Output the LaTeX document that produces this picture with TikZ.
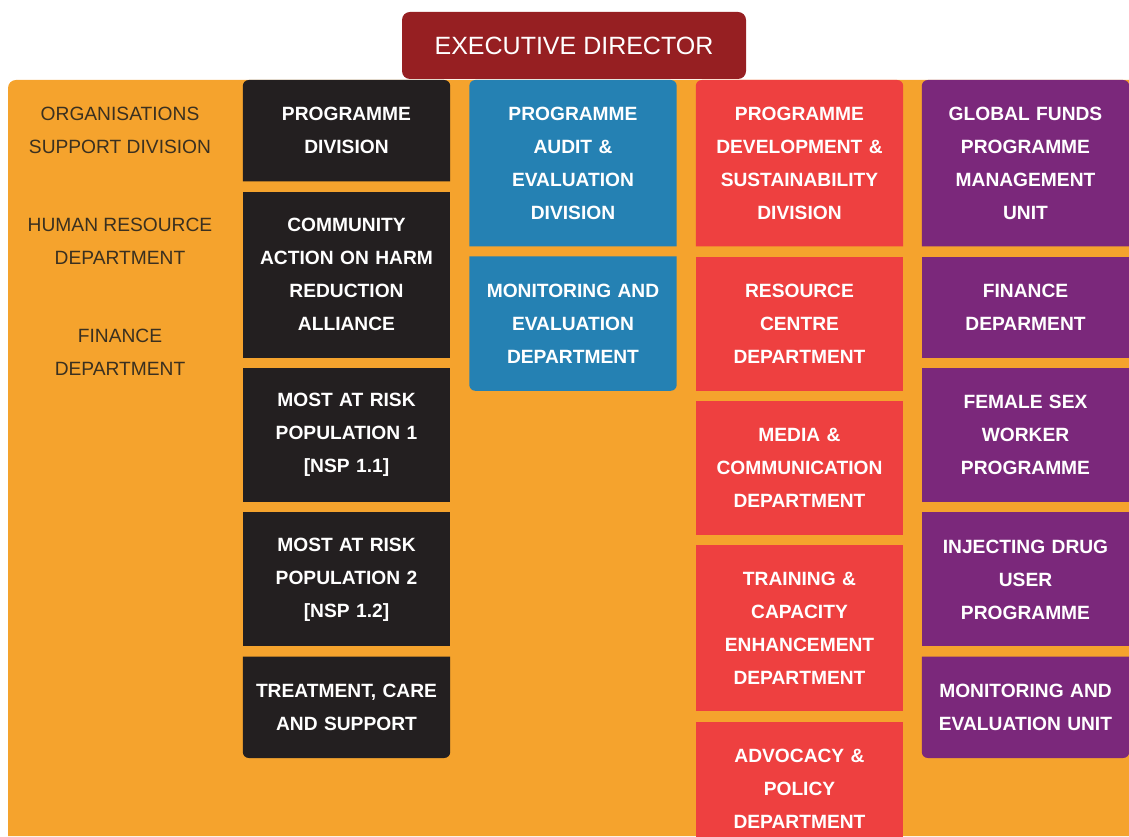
\documentclass[tikz,border=0pt]{standalone}
\usepackage{fontspec}
\setmainfont{Liberation Sans}
\usetikzlibrary{positioning, backgrounds}

\definecolor{orgbg}{HTML}{F5A32D}
\definecolor{execred}{HTML}{961F22}
\definecolor{progblack}{HTML}{231F20}
\definecolor{auditblue}{HTML}{2581B3}
\definecolor{devred}{HTML}{EE4040}
\definecolor{fundpurple}{HTML}{7B287B}
\definecolor{sidetext}{HTML}{3A3020}

\begin{document}
\begin{tikzpicture}[x=1pt, y=1pt, node distance=10pt,
  unit/.style={minimum width=207pt, text width=200pt, inner sep=0pt, align=center,
    text=white, font=\fontsize{19.2pt}{33pt}\selectfont\bfseries},
  two/.style={minimum height=101pt},
  three/.style={minimum height=134pt},
  four/.style={minimum height=166pt},
  side/.style={text=sidetext, align=center, font=\fontsize{19.2pt}{33pt}\selectfont}]
  \useasboundingbox (0,0) rectangle (1129,836);

  % Head of the chart
  \node (exec) [fill=execred, rounded corners=8pt, minimum width=344pt, minimum height=67pt,
    text=white, font=\fontsize{25pt}{30pt}\selectfont] at (574,790.5) {EXECUTIVE DIRECTOR};

  % Support division, no boxes
  \node (osd) [side] at (120,705.5) {ORGANISATIONS\\SUPPORT DIVISION};
  \node (hrd) [side] at (120,594.5) {HUMAN RESOURCE\\DEPARTMENT};
  \node (fid) [side] at (120,484) {FINANCE\\DEPARTMENT};

  % Programme division
  \node (progdiv) [unit, two, anchor=north] at (346.5,756) {PROGRAMME\\DIVISION};
  \node (charm) [unit, four, fill=progblack, below=of progdiv] {COMMUNITY\\ACTION ON HARM\\REDUCTION\\ALLIANCE};
  \node (marp1) [unit, three, fill=progblack, below=of charm] {MOST AT RISK\\POPULATION 1\\{[NSP 1.1]}};
  \node (marp2) [unit, three, fill=progblack, below=of marp1] {MOST AT RISK\\POPULATION 2\\{[NSP 1.2]}};
  \node (tcs) [unit, two, below=of marp2] {TREATMENT, CARE\\AND SUPPORT};

  % Audit and evaluation
  \node (audit) [unit, four, anchor=north] at (573,756) {PROGRAMME\\AUDIT \&\\EVALUATION\\DIVISION};
  \node (medept) [unit, three, below=of audit] {MONITORING AND\\EVALUATION\\DEPARTMENT};

  % Development and sustainability
  \node (pdsd) [unit, four, anchor=north] at (799.5,756) {PROGRAMME\\DEVELOPMENT \&\\SUSTAINABILITY\\DIVISION};
  \node (rcdept) [unit, three, fill=devred, below=of pdsd] {RESOURCE\\CENTRE\\DEPARTMENT};
  \node (mcdept) [unit, three, fill=devred, below=of rcdept] {MEDIA \&\\COMMUNICATION\\DEPARTMENT};
  \node (tcedept) [unit, four, fill=devred, below=of mcdept] {TRAINING \&\\CAPACITY\\ENHANCEMENT\\DEPARTMENT};
  \node (apdept) [unit, three, fill=devred, below=of tcedept] {ADVOCACY \&\\POLICY\\DEPARTMENT};

  % Global funds unit
  \node (gfpmu) [unit, four, anchor=north] at (1025.5,756) {GLOBAL FUNDS\\PROGRAMME\\MANAGEMENT\\UNIT};
  \node (findept) [unit, two, fill=fundpurple, below=of gfpmu] {FINANCE\\DEPARMENT};
  \node (fswp) [unit, three, fill=fundpurple, below=of findept] {FEMALE SEX\\WORKER\\PROGRAMME};
  \node (idup) [unit, three, fill=fundpurple, below=of fswp] {INJECTING DRUG\\USER\\PROGRAMME};
  \node (meunit) [unit, two, below=of idup] {MONITORING AND\\EVALUATION UNIT};

  \begin{scope}[on background layer]
    % orange panel behind the columns
    \fill[orgbg] (1129,0) -- (8,0) [rounded corners=8pt] -- (8,756) [sharp corners] -- (1129,756) -- cycle;
    % first box of a column: round top corners only
    \foreach \n/\c in {progdiv/progblack, audit/auditblue, pdsd/devred, gfpmu/fundpurple}
      \fill[\c] (\n.south west) [rounded corners=6pt] -- (\n.north west) -- (\n.north east)
        [sharp corners] -- (\n.south east) -- cycle;
    % last box of a column: round bottom corners only
    \foreach \n/\c in {tcs/progblack, medept/auditblue, meunit/fundpurple}
      \fill[\c] (\n.north west) [rounded corners=6pt] -- (\n.south west) -- (\n.south east)
        [sharp corners] -- (\n.north east) -- cycle;
  \end{scope}
\end{tikzpicture}
\end{document}
